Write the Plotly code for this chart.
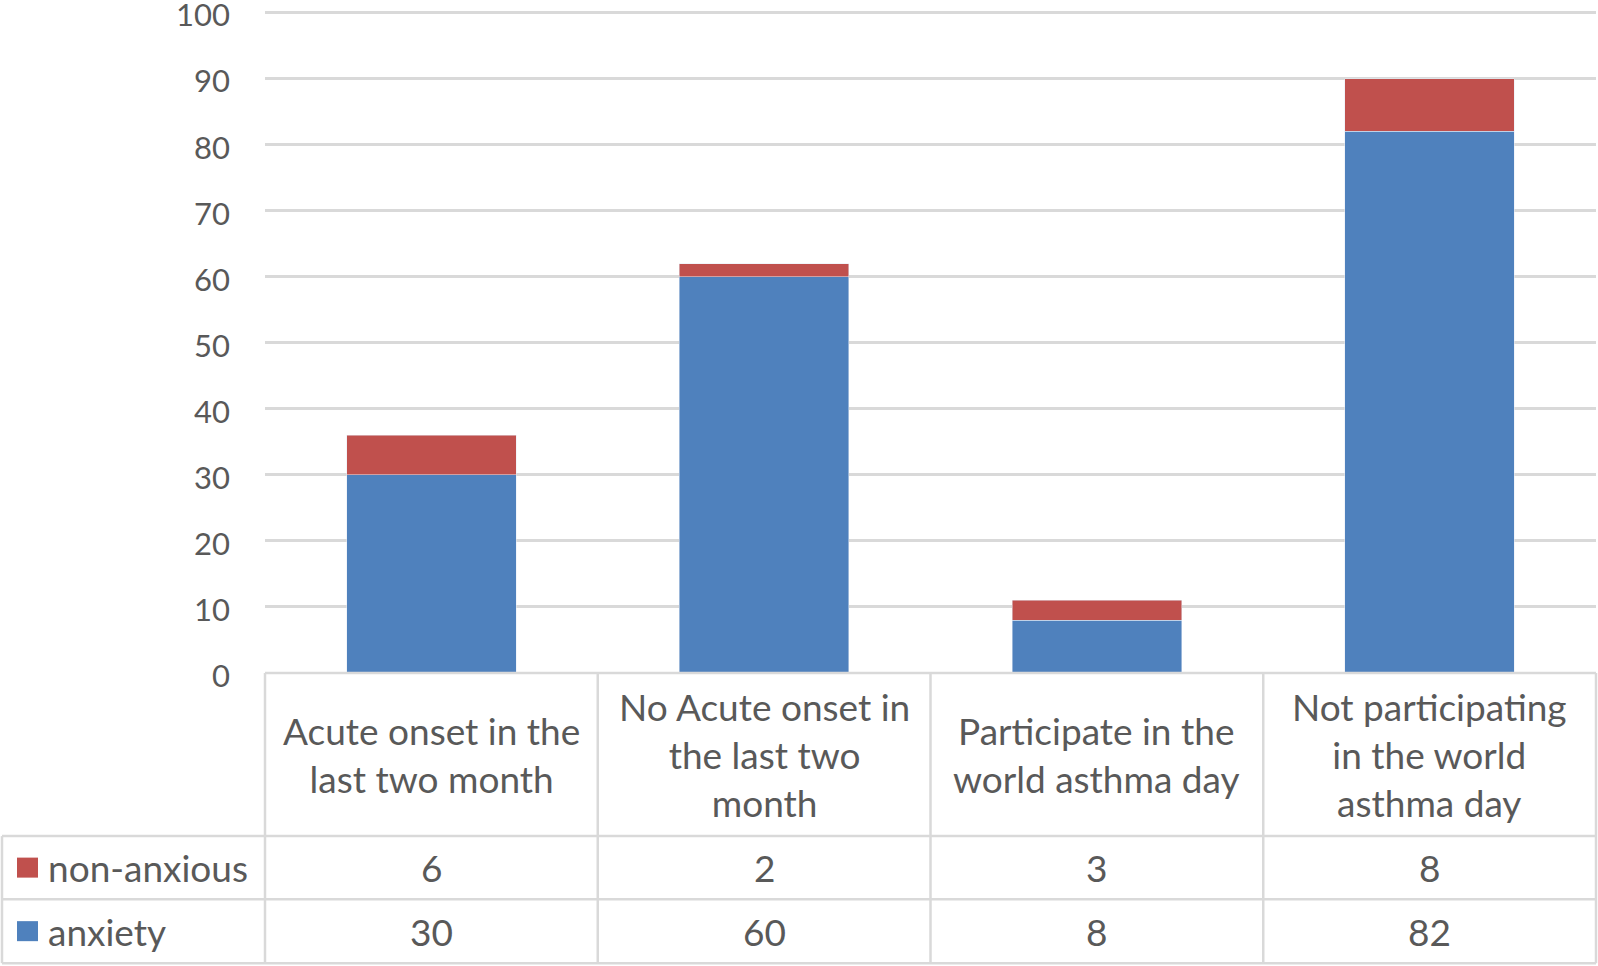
import plotly.graph_objects as go

categories = [
    "Acute onset in the<br>last two month",
    "No Acute onset in<br>the last two<br>month",
    "Participate in the<br>world asthma day",
    "Not participating<br>in the world<br>asthma day",
]
series_names = ["anxiety", "non-anxious"]
anxiety = [30, 60, 8, 82]
non_anxious = [6, 2, 3, 8]
colors = {"anxiety": "#4F81BD", "non-anxious": "#C0504D"}
y_ticks = list(range(0, 101, 10))
y_top = 101  # a bit above 100 so the top gridline is not clipped

W, H = 1598, 966
ML, MR, MB = 265, 2, 293
Y0_PX, Y100_PX = H - MB, 13
PH = (Y0_PX - Y100_PX) * y_top / 100
MT = H - MB - PH
PW = W - ML - MR
FONT = "Lato"
TXT = "#595959"
GRID = "#D9D9D9"
TS = 37  # table font size


def px_x(x):
    return (x - ML) / PW


def px_y(y):
    return (H - MB - y) / PH


keys = list(range(len(categories)))

fig = go.Figure()
fig.add_trace(go.Bar(x=keys, y=anxiety, name="anxiety", marker_color=colors["anxiety"]))
fig.add_trace(go.Bar(x=keys, y=non_anxious, name="non-anxious", marker_color=colors["non-anxious"]))

# data table under the plot
row_lines = [H - MB, 836, 899, 963]
col_lines = [ML + PW * i / len(categories) for i in range(len(categories) + 1)]
shapes = []
line = dict(color=GRID, width=2.5)
for i, y in enumerate(row_lines):
    x0 = ML if i == 0 else 2
    shapes.append(dict(type="line", xref="paper", yref="paper",
                       x0=px_x(x0), x1=1, y0=px_y(y), y1=px_y(y), line=line))
for i, x in enumerate(col_lines):
    shapes.append(dict(type="line", xref="paper", yref="paper",
                       x0=px_x(x), x1=px_x(x), y0=px_y(row_lines[0]), y1=px_y(row_lines[-1]), line=line))
shapes.append(dict(type="line", xref="paper", yref="paper",
                   x0=px_x(2), x1=px_x(2), y0=px_y(row_lines[1]), y1=px_y(row_lines[-1]), line=line))

annotations = []
for i, c in enumerate(categories):
    annotations.append(dict(x=i, xref="x", y=px_y((row_lines[0] + row_lines[1]) / 2), yref="paper",
                            text=c, showarrow=False, align="center", yanchor="middle",
                            font=dict(family=FONT, size=TS, color=TXT)))

rows = [("non-anxious", non_anxious, 1), ("anxiety", anxiety, 2)]
for name, vals, r in rows:
    yc = (row_lines[r] + row_lines[r + 1]) / 2
    shapes.append(dict(type="rect", xref="paper", yref="paper",
                       x0=px_x(17), x1=px_x(38), y0=px_y(yc - 10), y1=px_y(yc + 10),
                       fillcolor=colors[name], line=dict(width=0)))
    annotations.append(dict(x=px_x(46), xref="paper", y=px_y(yc), yref="paper",
                            text=name, showarrow=False, xanchor="left", yanchor="middle",
                            font=dict(family=FONT, size=TS, color=TXT)))
    for i, v in enumerate(vals):
        annotations.append(dict(x=i, xref="x", y=px_y(yc), yref="paper",
                                text=str(v), showarrow=False, yanchor="middle",
                                font=dict(family=FONT, size=TS, color=TXT)))

fig.update_layout(
    width=W, height=H,
    margin=dict(l=ML, r=MR, t=MT, b=MB, pad=0),
    barmode="stack", bargap=0.49,
    plot_bgcolor="white", paper_bgcolor="white",
    showlegend=False,
    shapes=shapes, annotations=annotations,
    font=dict(family=FONT, size=32, color=TXT),
)
fig.update_xaxes(range=[-0.5, len(categories) - 0.5], showticklabels=False, automargin=False,
                 showgrid=False, zeroline=False, showline=False)
fig.update_yaxes(range=[0, y_top], tickvals=y_ticks, showgrid=True, gridcolor=GRID,
                 gridwidth=2.5, zeroline=False, showline=False, ticklabelstandoff=34,
                 ticklabeloverflow="allow", ticklabelshift=3, automargin=False,
                 tickfont=dict(family=FONT, size=31, color=TXT))

fig.write_html("out.html", config={"displayModeBar": False},
               post_script="document.body.style.margin='0';")
